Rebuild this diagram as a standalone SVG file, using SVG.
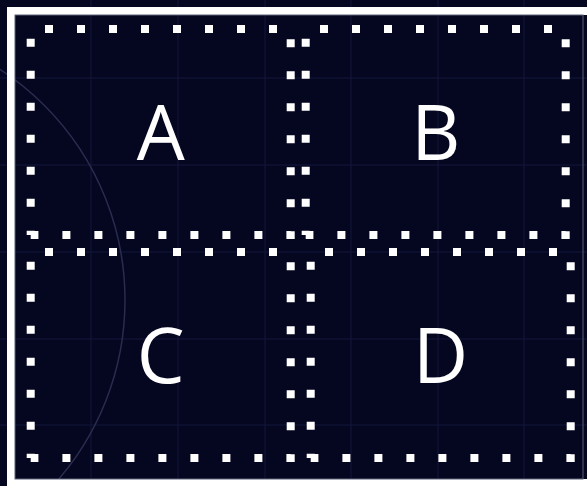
<svg xmlns="http://www.w3.org/2000/svg" width="587" height="486" viewBox="0 0 587 486">
<style>
.grid line{stroke:#15173a;stroke-width:1}
.arc{fill:none;stroke:#2a2c4e;stroke-width:1.5}
.band{fill:#ffffff}
.box{fill:none;stroke:#ffffff;stroke-width:8;stroke-dasharray:8 24;stroke-dashoffset:17.7}
.side{fill:none;stroke:#ffffff;stroke-width:8;stroke-dasharray:8 24;stroke-dashoffset:22.3}
.lbl{font-family:"Open Sans","Noto Sans",sans-serif;font-size:76px;fill:#ffffff;text-anchor:middle}
</style>
<rect x="0" y="0" width="587" height="486" fill="#050620"/>
<g class="grid">
<line x1="91" y1="0" x2="91" y2="486"/>
<line x1="178" y1="0" x2="178" y2="486"/>
<line x1="265" y1="0" x2="265" y2="486"/>
<line x1="351" y1="0" x2="351" y2="486"/>
<line x1="438" y1="0" x2="438" y2="486"/>
<line x1="524" y1="0" x2="524" y2="486"/>
<line x1="0" y1="78" x2="587" y2="78"/>
<line x1="0" y1="165" x2="587" y2="165"/>
<line x1="0" y1="252" x2="587" y2="252"/>
<line x1="0" y1="339" x2="587" y2="339"/>
<line x1="0" y1="425" x2="587" y2="425"/>
</g>
<circle class="arc" cx="-150" cy="300" r="275"/>
<rect class="band" x="7" y="7" width="580" height="8"/>
<rect class="band" x="7" y="7" width="8" height="479"/>
<rect class="band" x="7" y="479" width="580" height="7"/>
<rect x="15" y="15" width="568" height="464" fill="none" stroke="#5d6078" stroke-width="1"/>
<g id="nodeA"><path class="box" d="M30.7 29H290.7V235H30.7"/><path class="side" d="M30.7 29V235"/><text class="lbl" x="160.7" y="160">A</text></g>
<g id="nodeB"><path class="box" d="M305.7 29H565.7V235H305.7"/><path class="side" d="M305.7 29V235"/><text class="lbl" x="435.7" y="160">B</text></g>
<g id="nodeC"><path class="box" d="M30.7 252H290.7V458H30.7"/><path class="side" d="M30.7 252V458"/><text class="lbl" x="160.7" y="383">C</text></g>
<g id="nodeD"><path class="box" d="M310.7 252H570.7V458H310.7"/><path class="side" d="M310.7 252V458"/><text class="lbl" x="440.7" y="383">D</text></g>
<g id="connectors"></g>
</svg>
